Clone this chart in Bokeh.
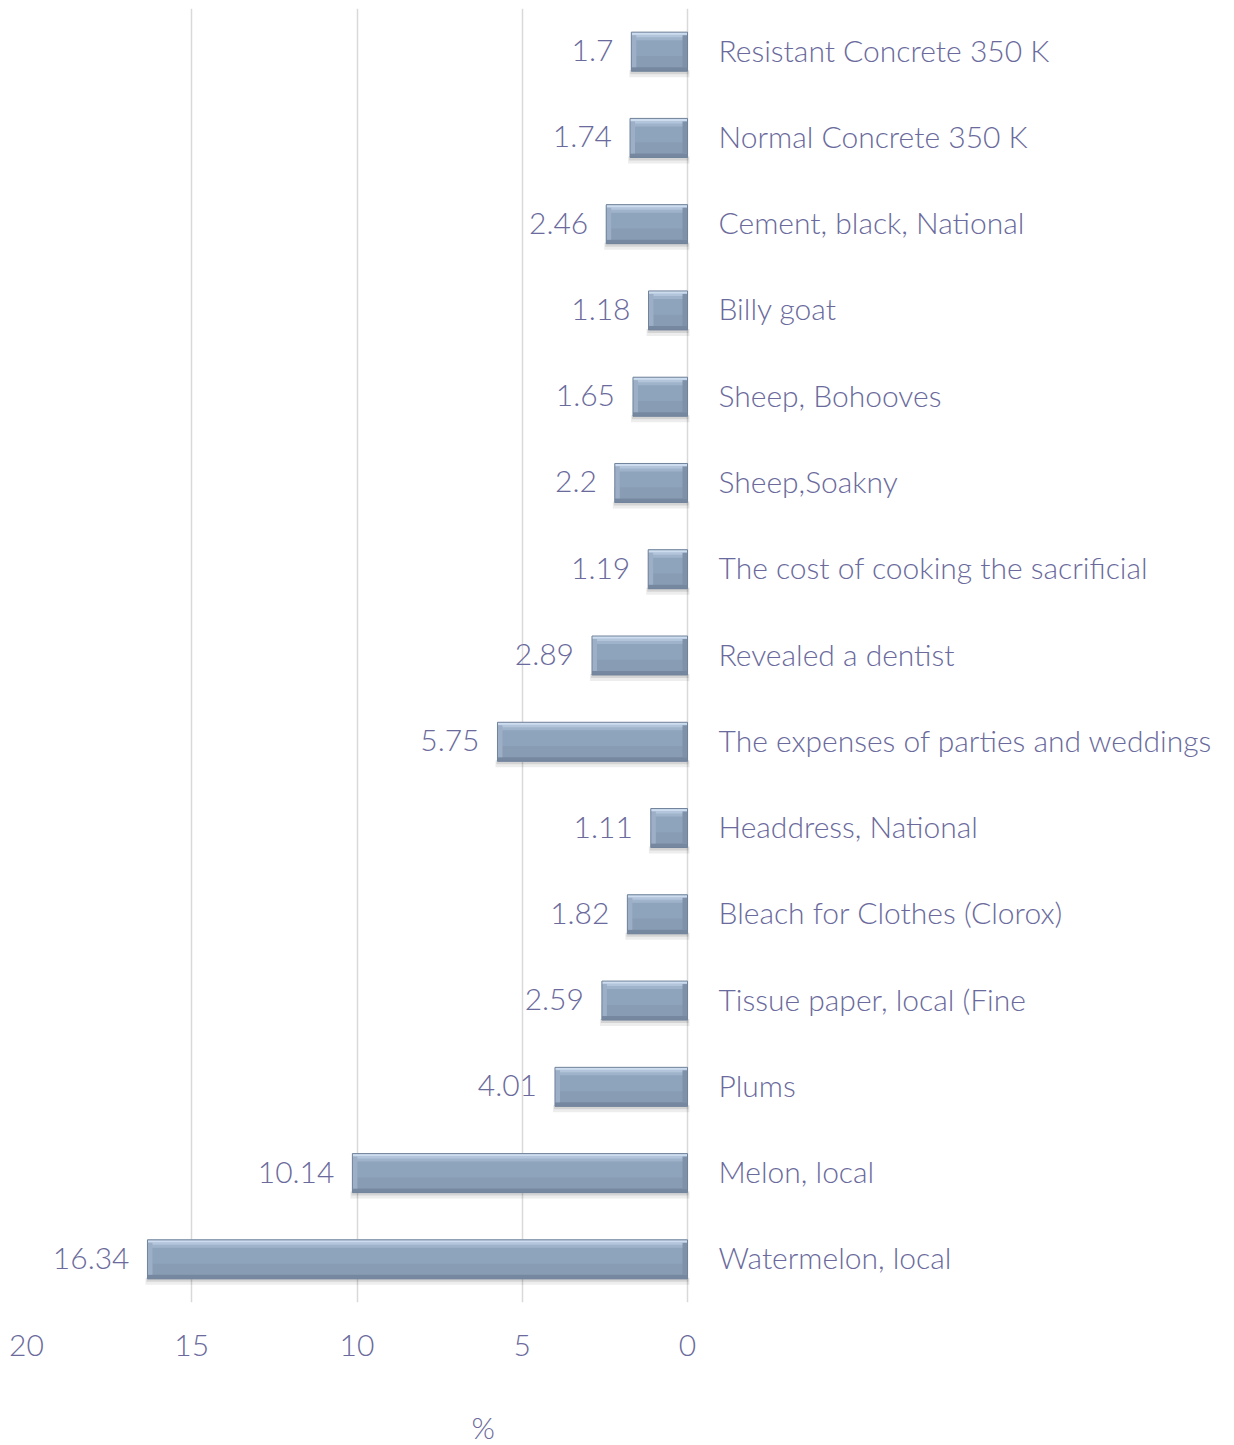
from bokeh.plotting import figure
from bokeh.models import Range1d, FixedTicker, ColumnDataSource, Title
from bokeh.core.properties import value
from bokeh.embed import file_html
from bokeh.resources import INLINE

categories = [
    "Resistant Concrete 350 K",
    "Normal Concrete 350 K",
    "Cement, black, National",
    "Billy goat",
    "Sheep, Bohooves",
    "Sheep,Soakny",
    "The cost of cooking the sacrificial",
    "Revealed a dentist",
    "The expenses of parties and weddings",
    "Headdress, National",
    "Bleach for Clothes (Clorox)",
    "Tissue paper, local (Fine",
    "Plums",
    "Melon, local",
    "Watermelon, local",
]
values = [1.7, 1.74, 2.46, 1.18, 1.65, 2.2, 1.19, 2.89, 5.75, 1.11, 1.82, 2.59, 4.01, 10.14, 16.34]
value_labels = ["1.7", "1.74", "2.46", "1.18", "1.65", "2.2", "1.19", "2.89", "5.75", "1.11", "1.82", "2.59", "4.01", "10.14", "16.34"]
x_ticks = [0, 5, 10, 15, 20]
axis_title = "%"

FONT = "'Lato Light', Lato"
TXT = "#6a6a9c"
FS = "30px"

n = len(categories)
ys = [n - 1 - i for i in range(n)]

p = figure(width=1234, height=1445, output_backend="svg", toolbar_location=None,
           x_range=Range1d(20, -16.55), y_range=Range1d(-0.5, n - 0.5),
           min_border_left=26, min_border_right=0, min_border_top=8, min_border_bottom=143,
           y_axis_location=None)
p.outline_line_color = None
p.background_fill_color = "white"
p.border_fill_color = "white"

# axis
p.xaxis.ticker = FixedTicker(ticks=x_ticks)
p.xaxis.axis_line_color = None
p.xaxis.major_tick_line_color = None
p.xaxis.minor_tick_line_color = None
p.xaxis.major_label_standoff = 26
p.xaxis.major_label_text_font = FONT
p.xaxis.major_label_text_font_size = FS
p.xaxis.major_label_text_color = TXT
# invisible spacer label to push the "%" title down
p.xaxis.axis_label = " "
p.xaxis.axis_label_text_font_size = "10px"
p.xaxis.axis_label_standoff = 34
p.xgrid.ticker = FixedTicker(ticks=x_ticks)
p.xgrid.grid_line_color = "#d9d9d9"
p.xgrid.grid_line_width = 1.5
p.ygrid.grid_line_color = None

ux = 1 / 33.05   # data units per px, x
uy = 1 / 86.27   # data units per px, y
hh = 0.226

src = ColumnDataSource(dict(y=ys, v=values, lab=value_labels, cat=categories))

# shadow
p.quad(left=[v + 2 * ux for v in values], right=[-2 * ux] * n,
       top=[y - hh + 1 * uy for y in ys], bottom=[y - hh - 6 * uy for y in ys],
       fill_color="#000000", fill_alpha=0.07, line_color=None)
p.quad(left=[v + 1 * ux for v in values], right=[-1 * ux] * n,
       top=[y - hh + 1 * uy for y in ys], bottom=[y - hh - 3 * uy for y in ys],
       fill_color="#000000", fill_alpha=0.10, line_color=None)
# main body
p.quad(left=values, right=[0] * n, top=[y + hh for y in ys], bottom=[y - hh for y in ys],
       fill_color="#8ea3bc", line_color=None)
p.quad(left=values, right=[0] * n, top=[y - 0.05 for y in ys], bottom=[y - hh for y in ys],
       fill_color="#889cb4", line_color=None)
# top bevel
p.quad(left=values, right=[0] * n, top=[y + hh for y in ys], bottom=[y + hh - 8 * uy for y in ys],
       fill_color="#9fb3ca", line_color=None)
p.quad(left=values, right=[0] * n, top=[y + hh for y in ys], bottom=[y + hh - 5 * uy for y in ys],
       fill_color="#b2c5db", line_color=None)
p.quad(left=values, right=[0] * n, top=[y + hh for y in ys], bottom=[y + hh - 2.5 * uy for y in ys],
       fill_color="#cddcee", line_color=None)
# bottom bevel
p.quad(left=values, right=[0] * n, top=[y - hh + 4 * uy for y in ys], bottom=[y - hh for y in ys],
       fill_color="#76889f", line_color=None)
# left / right end bevels
p.quad(left=values, right=[v - 5 * ux for v in values], top=[y + hh - 3 * uy for y in ys],
       bottom=[y - hh + 4 * uy for y in ys], fill_color="#9cafc6", line_color=None)
p.quad(left=[5 * ux] * n, right=[0] * n, top=[y + hh - 3 * uy for y in ys],
       bottom=[y - hh + 4 * uy for y in ys], fill_color="#7e91a9", line_color=None)
# outline
p.quad(left=values, right=[0] * n, top=[y + hh for y in ys], bottom=[y - hh for y in ys],
       fill_color=None, line_color="#71839a", line_width=1)

# value labels
p.text(x="v", y="y", text="lab", source=src, x_offset=-18, y_offset=-1, text_align="right",
       text_baseline="middle", text_font=value(FONT), text_font_size=FS, text_color=TXT)
# category labels
p.text(x=0, y="y", text="cat", source=src, x_offset=31, y_offset=-2, text_align="left",
       text_baseline="middle", text_font=value(FONT), text_font_size=FS, text_color=TXT)

p.add_layout(Title(text=axis_title, align="left", offset=445, standoff=0,
                   text_font=FONT, text_font_size=FS, text_color=TXT,
                   text_font_style="normal"), "below")

open("out.html", "w").write(file_html(p, INLINE))
